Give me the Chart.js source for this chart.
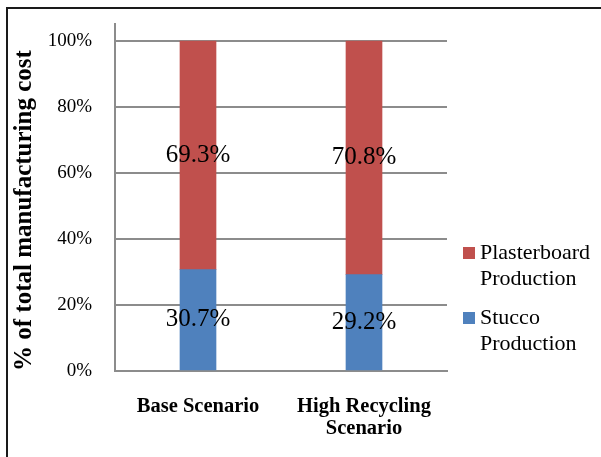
<!DOCTYPE html>
<html>
<head>
<meta charset="utf-8">
<script src="https://cdn.jsdelivr.net/npm/chart.js@4"></script>
<style>
  html, body { margin: 0; padding: 0; background: #ffffff; }
  #wrap { width: 601px; height: 457px; }
</style>
</head>
<body>
<div id="wrap"><canvas id="c" width="601" height="457"></canvas></div>
<script>
// Share of total manufacturing cost by process step
const categories = [['Base Scenario'], ['High Recycling', 'Scenario']];
const stuccoShare = [30.7, 29.2];
const plasterboardShare = [69.3, 70.8];
const seriesNames = ['Stucco Production', 'Plasterboard Production'];
const tickValues = [0, 20, 40, 60, 80, 100];

const SERIF = '"Liberation Serif", "Times New Roman", serif';
const GRID = '#8c8c8c';

// Outer frame around the figure
const framePlugin = {
  id: 'frame',
  beforeDraw(chart) {
    const ctx = chart.ctx;
    ctx.save();
    ctx.strokeStyle = '#1a1a1a';
    ctx.lineWidth = 2;
    ctx.beginPath();
    ctx.moveTo(7, 457);
    ctx.lineTo(7, 8);
    ctx.lineTo(601, 8);
    ctx.stroke();
    ctx.restore();
  }
};

// Percentage labels centred in every bar segment
const segmentLabels = {
  id: 'segmentLabels',
  afterDatasetsDraw(chart) {
    const ctx = chart.ctx;
    ctx.save();
    ctx.font = '25px ' + SERIF;
    ctx.fillStyle = '#000000';
    ctx.textAlign = 'center';
    ctx.textBaseline = 'middle';
    chart.data.datasets.forEach((ds, di) => {
      const meta = chart.getDatasetMeta(di);
      meta.data.forEach((bar, i) => {
        const p = bar.getProps(['x', 'y', 'base'], true);
        const yc = (p.y + p.base) / 2;
        ctx.fillText(ds.data[i].toFixed(1) + '%', p.x, yc);
      });
    });
    ctx.restore();
  }
};

// Legend on the right, top series first, names wrapped word by word
const sideLegend = {
  id: 'sideLegend',
  afterDraw(chart) {
    const ctx = chart.ctx;
    const x0 = 463, firstY = 253, itemGap = 65, lineGap = 26, box = 12;
    ctx.save();
    ctx.font = '22px ' + SERIF;
    ctx.textBaseline = 'middle';
    ctx.textAlign = 'left';
    const order = chart.data.datasets.map((d, i) => i).reverse();
    order.forEach((di, k) => {
      const ds = chart.data.datasets[di];
      const y = firstY + k * itemGap;
      ctx.fillStyle = ds.backgroundColor;
      ctx.fillRect(x0, y - box / 2, box, box);
      ctx.fillStyle = '#000000';
      ds.label.split(' ').forEach((line, li) => {
        ctx.fillText(line, x0 + 17, y + li * lineGap);
      });
    });
    ctx.restore();
  }
};

new Chart(document.getElementById('c'), {
  type: 'bar',
  data: {
    labels: categories,
    datasets: [
      { label: seriesNames[0], data: stuccoShare, backgroundColor: '#4F81BD' },
      { label: seriesNames[1], data: plasterboardShare, backgroundColor: '#C0504D' }
    ]
  },
  options: {
    responsive: false,
    animation: false,
    devicePixelRatio: 1,
    layout: { padding: { left: 8, right: 154, top: 24, bottom: 0 } },
    datasets: { bar: { barThickness: 36 } },
    plugins: { legend: { display: false }, tooltip: { enabled: false } },
    scales: {
      x: {
        stacked: true,
        grid: { display: false, drawTicks: false },
        border: { display: true, color: GRID, width: 2 },
        ticks: {
          color: '#000000',
          font: { family: SERIF, size: 20.5, weight: 'bold', lineHeight: 1.07 },
          padding: 25,
          maxRotation: 0,
          autoSkip: false
        },
        afterFit(scale) { scale.height = 86; }
      },
      y: {
        stacked: true,
        min: 0,
        max: 105.15,
        grid: { color: GRID, lineWidth: 2, drawTicks: false },
        border: { display: true, color: GRID, width: 2 },
        ticks: {
          color: '#000000',
          font: { family: SERIF, size: 19 },
          padding: 23,
          callback: v => v + '%'
        },
        afterBuildTicks(scale) {
          scale.ticks = tickValues.map(v => ({ value: v }));
        },
        title: {
          display: true,
          text: '% of total manufacturing cost',
          align: 'start',
          color: '#000000',
          font: { family: SERIF, size: 25, weight: 'bold' },
          padding: { top: 2, bottom: 0 }
        },
        afterFit(scale) {
          scale.width = 107;
          scale.paddingTop = 0;
          scale.paddingBottom = 0;
        }
      }
    }
  },
  plugins: [framePlugin, segmentLabels, sideLegend]
});
</script>
</body>
</html>
